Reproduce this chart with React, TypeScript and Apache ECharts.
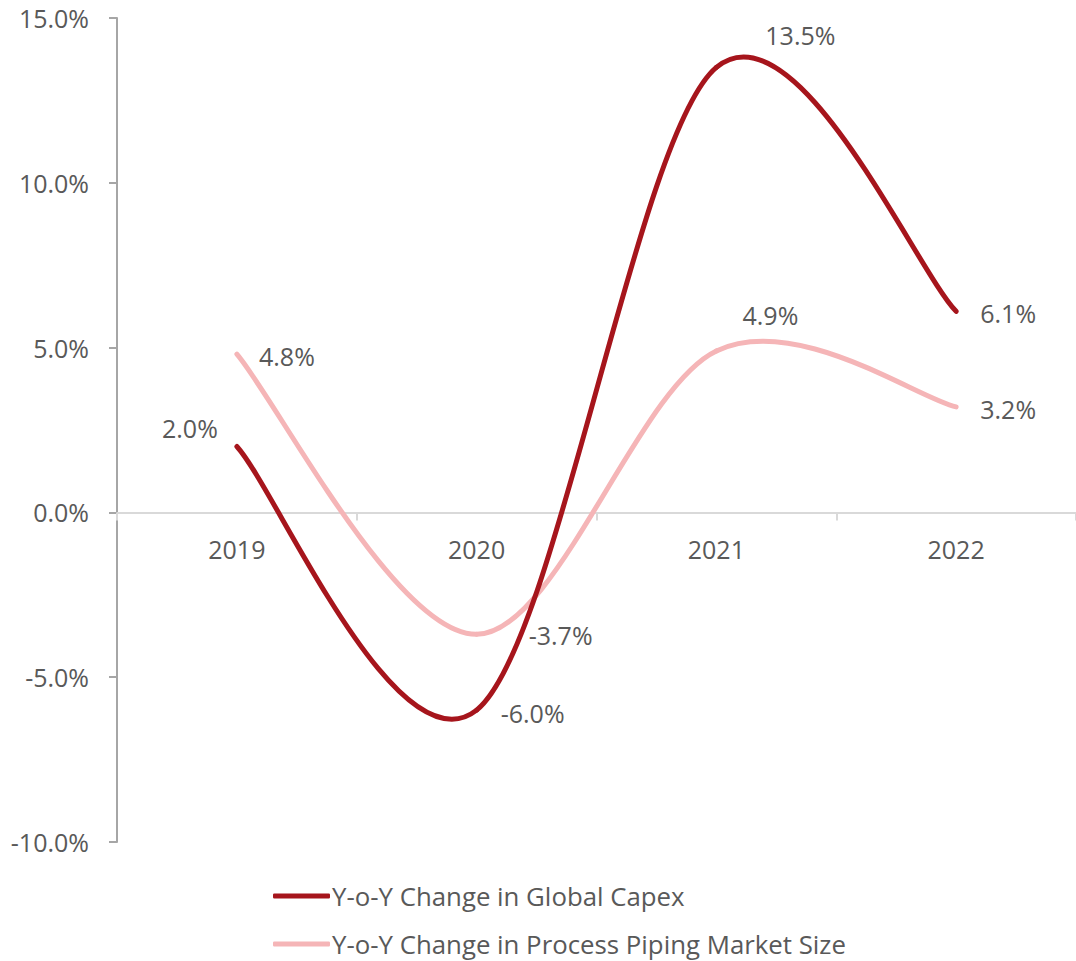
import React, { useEffect, useRef } from "react";
import * as echarts from "echarts";

const categories = ["2019", "2020", "2021", "2022"];
const capexValues = [2.0, -6.0, 13.5, 6.1];
const pipingValues = [4.8, -3.7, 4.9, 3.2];
const capexLabelOffsets = [[-47, -18], [56, 3], [84, -32], [52, 2]];
const pipingLabelOffsets = [[50, 2], [84, 1], [54, -36], [52, 2]];
const seriesNames = ["Y-o-Y Change in Global Capex", "Y-o-Y Change in Process Piping Market Size"];
const seriesColors = ["#A6151C", "#F5B5B7"];

const FONT = "'Open Sans', 'Noto Sans', sans-serif";
const TEXT = "#595959";

function smoothSeries(name: string, values: number[], offsets: number[][], color: string, z: number) {
  const n = values.length;
  return {
    name,
    type: "custom",
    z,
    itemStyle: { color },
    encode: { x: 0, y: 1 },
    data: values.map((v, i) => [i, v]),
    renderItem: (params: any, api: any) => {
      const i = params.dataIndex;
      const cl = (k: number) => Math.max(0, Math.min(n - 1, k));
      const P = (k: number) => api.coord([cl(k), values[cl(k)]]);
      const children: any[] = [];
      const p1 = P(i);
      if (i < n - 1) {
        const p0 = P(i - 1);
        const p2 = P(i + 1);
        const p3 = P(i + 2);
        children.push({
          type: "bezierCurve",
          shape: {
            x1: p1[0],
            y1: p1[1],
            x2: p2[0],
            y2: p2[1],
            cpx1: p1[0] + (p2[0] - p0[0]) / 6,
            cpy1: p1[1] + (p2[1] - p0[1]) / 6,
            cpx2: p2[0] - (p3[0] - p1[0]) / 6,
            cpy2: p2[1] - (p3[1] - p1[1]) / 6,
          },
          style: { stroke: color, lineWidth: 5, fill: null, lineCap: "round" },
        });
      }
      children.push({
        type: "text",
        x: p1[0] + offsets[i][0],
        y: p1[1] + offsets[i][1],
        z2: 10,
        style: {
          text: `${values[i].toFixed(1)}%`,
          fill: TEXT,
          fontSize: 25,
          fontFamily: FONT,
          align: "center",
          verticalAlign: "middle",
        },
      });
      return { type: "group", children };
    },
  };
}

export default function App() {
  const ref = useRef<HTMLDivElement>(null);
  useEffect(() => {
    if (!ref.current) return;
    const chart = echarts.init(ref.current, undefined, { renderer: "svg" });
    const gridTop = 18;
    const gridHeight = 824;
    const yMin = -10;
    const yMax = 15;
    const zeroOffset = -((0 - yMin) / (yMax - yMin)) * gridHeight;
    const legendBase = {
      orient: "horizontal",
      left: 268,
      itemWidth: 57,
      itemHeight: 5,
      icon: "roundRect",
      textStyle: { color: TEXT, fontSize: 25.8, fontFamily: FONT, padding: [0, 0, 0, -3] },
    };
    chart.setOption({
      animation: false,
      textStyle: { fontFamily: FONT },
      grid: { left: 117, right: -5, top: gridTop, height: gridHeight },
      legend: [
        { ...legendBase, top: 878, data: [{ name: seriesNames[0], itemStyle: { color: seriesColors[0] } }] },
        { ...legendBase, top: 926, data: [{ name: seriesNames[1], itemStyle: { color: seriesColors[1] } }] },
      ],
      xAxis: {
        type: "category",
        data: categories,
        boundaryGap: true,
        offset: zeroOffset,
        axisLine: { onZero: false, lineStyle: { color: "#d9d9d9", width: 2 } },
        axisTick: { show: true, length: 8, lineStyle: { color: "#d9d9d9", width: 2 } },
        axisLabel: { color: TEXT, fontSize: 25, fontFamily: FONT, margin: 24 },
        splitLine: { show: false },
      },
      yAxis: {
        type: "value",
        min: yMin,
        max: yMax,
        interval: 5,
        axisLine: { show: true, lineStyle: { color: "#a6a6a6", width: 2 } },
        axisTick: { show: true, length: 8, lineStyle: { color: "#a6a6a6", width: 2 } },
        axisLabel: {
          color: TEXT,
          fontSize: 25,
          fontFamily: FONT,
          margin: 28,
          formatter: (v: number) => `${v.toFixed(1)}%`,
        },
        splitLine: { show: false },
      },
      series: [
        smoothSeries(seriesNames[1], pipingValues, pipingLabelOffsets, seriesColors[1], 2),
        smoothSeries(seriesNames[0], capexValues, capexLabelOffsets, seriesColors[0], 3),
      ],
    });
    return () => chart.dispose();
  }, []);
  return (
    <div style={{ position: "fixed", left: 0, top: 0, width: 1076, height: 961, overflow: "hidden", background: "#fff" }}>
      <div ref={ref} style={{ width: 1076, height: 961 }} />
    </div>
  );
}
